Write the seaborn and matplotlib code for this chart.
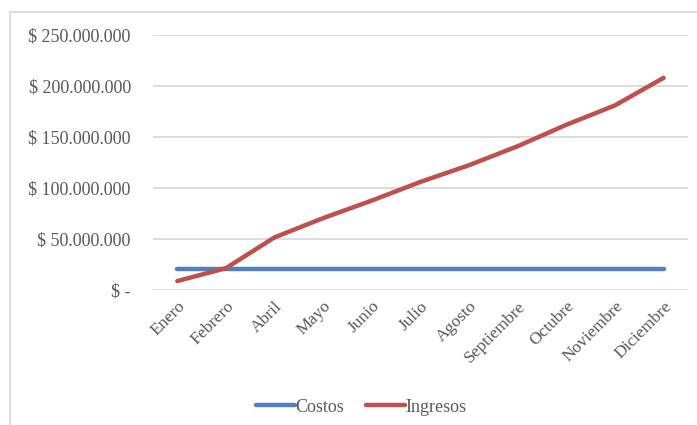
import numpy as np
import pandas as pd
import matplotlib
matplotlib.use('Agg')
import matplotlib.pyplot as plt
from matplotlib.ticker import FuncFormatter
from matplotlib.patches import Rectangle
import seaborn as sns

#%% datos

meses = ['Enero', 'Febrero', 'Abril', 'Mayo', 'Junio', 'Julio', 'Agosto',
         'Septiembre', 'Octubre', 'Noviembre', 'Diciembre']
costos = [21000000] * 11
ingresos = [8800000, 21400000, 51600000, 70500000, 87700000, 106000000,
            122400000, 141000000, 162000000, 181000000, 208000000]

df = pd.DataFrame({'Mes': meses * 2,
                   'Valor': costos + ingresos,
                   'Serie': ['Costos'] * 11 + ['Ingresos'] * 11})

#%% estilo

sns.set_style('white')
plt.rcParams['font.family'] = ['Liberation Serif', 'DejaVu Serif']
gris = '#595959'

fig = plt.figure(figsize=(6.97, 4.25), dpi=100)
ax = fig.add_axes([0.2195, 0.3176, 0.987 - 0.2195, 0.6])

sns.lineplot(data=df, x='Mes', y='Valor', hue='Serie', sort=False,
             palette={'Costos': '#4F81BD', 'Ingresos': '#C0504D'},
             linewidth=3.2, ax=ax)

ax.set_xlim(-0.5, 10.5)
ax.set_ylim(0, 250000000)
ax.set_yticks(np.arange(0, 250000001, 50000000))

def fmt(v, pos):
    if v == 0:
        return '$ -'
    return '$ ' + f'{int(v):,}'.replace(',', '.')

ax.yaxis.set_major_formatter(FuncFormatter(fmt))
ax.grid(axis='y', color='#D9D9D9', linewidth=1.3)
ax.set_axisbelow(True)
for s in ax.spines.values():
    s.set_visible(False)
ax.tick_params(axis='both', length=0, labelcolor=gris, labelsize=13)
ax.tick_params(axis='y', pad=16)
ax.tick_params(axis='x', labelsize=12.5, pad=6)
plt.setp(ax.get_xticklabels(), rotation=45, ha='right', rotation_mode='anchor')
ax.set_xlabel('')
ax.set_ylabel('')

h, l = ax.get_legend_handles_labels()
ax.legend(h, l, loc='center', bbox_to_anchor=(0.518, 0.042),
          bbox_transform=fig.transFigure, ncol=2, frameon=False,
          fontsize=13, labelcolor=gris, handlelength=2.2, handletextpad=0.0,
          columnspacing=1.2)

# borde del grafico
fig.patches.append(Rectangle((10 / 697, -0.05), 1.1, 1 - 12 / 425 + 0.05,
                             transform=fig.transFigure, fill=False,
                             edgecolor='#D9D9D9', linewidth=1.2))

fig.savefig('out.png', dpi=100)
